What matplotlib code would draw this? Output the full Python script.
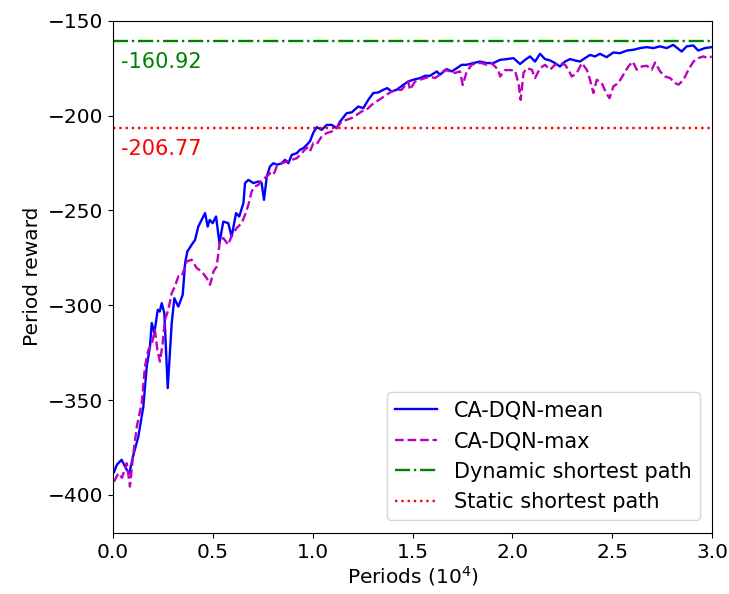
import matplotlib
matplotlib.use("Agg")
import matplotlib.pyplot as plt

# CA-DQN-mean (periods in 10^4, reward)
mean_x = [0.005, 0.02, 0.043, 0.069, 0.082, 0.10, 0.127, 0.152, 0.169, 0.185,
          0.194, 0.207, 0.224, 0.234, 0.244, 0.257, 0.274, 0.294, 0.307, 0.327,
          0.349, 0.361, 0.372, 0.394, 0.411, 0.427, 0.444, 0.461, 0.474, 0.484,
          0.499, 0.516, 0.533, 0.552, 0.577, 0.594, 0.616, 0.632, 0.653, 0.661,
          0.678, 0.703, 0.728, 0.744, 0.756, 0.770, 0.786, 0.803, 0.822, 0.845,
          0.861, 0.878, 0.895, 0.920, 0.936, 0.953, 0.970, 0.986, 1.003, 1.020,
          1.045, 1.070, 1.095, 1.120, 1.137, 1.170, 1.195, 1.228, 1.253, 1.278,
          1.303, 1.328, 1.353, 1.373, 1.395, 1.420, 1.453, 1.478, 1.503, 1.537,
          1.562, 1.587, 1.621, 1.637, 1.671, 1.696, 1.721, 1.746, 1.771, 1.804,
          1.837, 1.871, 1.904, 1.938, 1.971, 2.005, 2.038, 2.063, 2.088, 2.113,
          2.138, 2.163, 2.188, 2.213, 2.238, 2.263, 2.288, 2.313, 2.338, 2.363,
          2.388, 2.413, 2.438, 2.471, 2.505, 2.538, 2.572, 2.605, 2.638, 2.672,
          2.705, 2.738, 2.772, 2.805, 2.847, 2.872, 2.905, 2.930, 2.963, 2.997]
mean_y = [-388, -384, -381.5, -386.8, -388.6, -379.8, -369.2, -353.4, -332.3, -321.8,
          -309.4, -314.7, -302.4, -303.3, -298.9, -304.2, -343.7, -309.4, -296.3, -300.7,
          -294.5, -277.8, -271.7, -268.1, -265.5, -258.5, -255, -251.4, -258.5, -255,
          -256.7, -253.2, -267.3, -255.9, -256.7, -263.8, -251.4, -253.2, -246.1, -235.6,
          -233.9, -235.6, -234.7, -235.6, -244.4, -232.1, -226.8, -225.1, -225.9, -225.1,
          -223.3, -225.1, -220.7, -219.8, -218, -217.2, -215.4, -213.6, -209, -206.1,
          -207.5, -204.9, -204.9, -206.6, -203.1, -198.7, -198.3, -195.2, -196.1, -191.7,
          -188.1, -187.8, -186.4, -185.5, -187.3, -186.4, -183.8, -182, -181.1, -180.2,
          -179.0, -179.0, -176.7, -178.4, -175.5, -176.7, -175, -173.2, -173.2, -172.3,
          -171.5, -172.3, -172.3, -170.6, -170.2, -169.7, -172.8, -170.6, -168.8, -171.5,
          -167.4, -170.2, -170.9, -172.3, -174.1, -171.5, -170.2, -170.9, -171.5, -169.7,
          -168.0, -168.8, -167.4, -169.2, -166.7, -167.1, -165.7, -165.3, -164.4, -163.9,
          -164.4, -163.5, -164.4, -162.7, -166.2, -163.5, -163.0, -165.7, -164.4, -163.9]

# CA-DQN-max
max_x = [0.005, 0.027, 0.045, 0.06, 0.069, 0.085, 0.10, 0.119, 0.144, 0.160,
         0.177, 0.194, 0.210, 0.222, 0.235, 0.248, 0.260, 0.277, 0.294, 0.310,
         0.327, 0.344, 0.369, 0.394, 0.419, 0.444, 0.469, 0.486, 0.503, 0.519,
         0.536, 0.553, 0.577, 0.594, 0.619, 0.644, 0.661, 0.678, 0.694, 0.711,
         0.728, 0.745, 0.770, 0.786, 0.803, 0.820, 0.845, 0.870, 0.895, 0.920,
         0.945, 0.970, 0.986, 1.003, 1.020, 1.045, 1.070, 1.095, 1.120, 1.145,
         1.170, 1.195, 1.220, 1.245, 1.270, 1.295, 1.320, 1.345, 1.370, 1.395,
         1.420, 1.445, 1.478, 1.487, 1.512, 1.537, 1.562, 1.587, 1.612, 1.637,
         1.662, 1.687, 1.712, 1.737, 1.751, 1.771, 1.796, 1.821, 1.846, 1.871,
         1.896, 1.912, 1.929, 1.938, 1.962, 1.987, 2.012, 2.030, 2.041, 2.055,
         2.072, 2.097, 2.113, 2.138, 2.163, 2.188, 2.213, 2.238, 2.263, 2.280,
         2.297, 2.322, 2.347, 2.372, 2.388, 2.405, 2.422, 2.447, 2.469, 2.486,
         2.505, 2.530, 2.555, 2.580, 2.602, 2.622, 2.647, 2.672, 2.697, 2.714,
         2.739, 2.764, 2.789, 2.814, 2.831, 2.856, 2.881, 2.906, 2.930, 2.955,
         2.980, 2.997]
max_y = [-393, -388.6, -391, -386, -383.3, -395.6, -379.8, -364, -351.6, -332.3,
         -323.5, -320.6, -313, -323.5, -329.7, -320.6, -307.7, -302.4, -293.6, -290.1,
         -284.8, -284.8, -276.9, -276.0, -280.4, -282.2, -285.7, -289.2, -282.2, -279.6,
         -265.5, -264.6, -268.1, -263.3, -259.3, -256.7, -252.3, -247, -240, -237.3,
         -236.5, -233.9, -232.1, -230.4, -231.3, -226.8, -225.1, -224.2, -223.3, -222.5,
         -219.8, -216.8, -218.9, -214.5, -215.0, -211, -209.2, -208.4, -206.6, -203.1,
         -202.2, -201.3, -199.6, -197.8, -196.9, -194.3, -192.5, -190.8, -189, -187.3,
         -186.4, -186.4, -182, -186.4, -182, -181.1, -180.2, -179.4, -180.2, -178.4,
         -175.8, -176.7, -177.5, -176.7, -183.8, -176.7, -173.2, -172.3, -172.3, -173.2,
         -172.3, -174.1, -175.8, -179.4, -176.0, -176.0, -176.2, -182.8, -191.7, -177.5,
         -175, -175.8, -180.2, -175, -173.2, -175.8, -173.2, -172.3, -173.2, -175.8,
         -179.4, -177.5, -172.3, -175.8, -181.1, -188.1, -181.1, -182.8, -188.1, -190.8,
         -184.6, -182.8, -178.4, -174.1, -171.5, -175.8, -174.1, -173.7, -175.8, -172.0,
         -176.7, -179.4, -180.2, -182.8, -183.7, -181.1, -175.8, -171.5, -169.7, -168.8,
         -169.7, -168.8]

dynamic_sp = -160.92
static_sp = -206.77

plt.rcParams["font.family"] = "DejaVu Sans"
plt.rcParams["font.size"] = 14.5

fig = plt.figure(figsize=(7.29, 5.94), dpi=100)
ax = fig.add_axes([0.155, 0.103, 0.822, 0.862])

ax.plot(mean_x, mean_y, color="b", linewidth=1.7, label="CA-DQN-mean")
ax.plot(max_x, max_y, color="m", linestyle="--", linewidth=1.7, label="CA-DQN-max")
ax.axhline(dynamic_sp, color="g", linestyle="-.", linewidth=1.7, label="Dynamic shortest path")
ax.axhline(static_sp, color="r", linestyle=":", linewidth=1.7, label="Static shortest path")

ax.text(0.04, dynamic_sp - 11, str(dynamic_sp), color="g", va="center", fontsize=15)
ax.text(0.04, static_sp - 11, str(static_sp), color="r", va="center", fontsize=15)

ax.set_xlim(0, 3.0)
ax.set_ylim(-420, -150)
ax.set_xticks([0.0, 0.5, 1.0, 1.5, 2.0, 2.5, 3.0])
ax.set_yticks([-400, -350, -300, -250, -200, -150])
ax.set_xlabel("Periods ($10^4$)", labelpad=2)
ax.set_ylabel("Period reward")
ax.legend(loc="lower right", fontsize=15, borderaxespad=0.6)

fig.savefig("out.png", dpi=100)
